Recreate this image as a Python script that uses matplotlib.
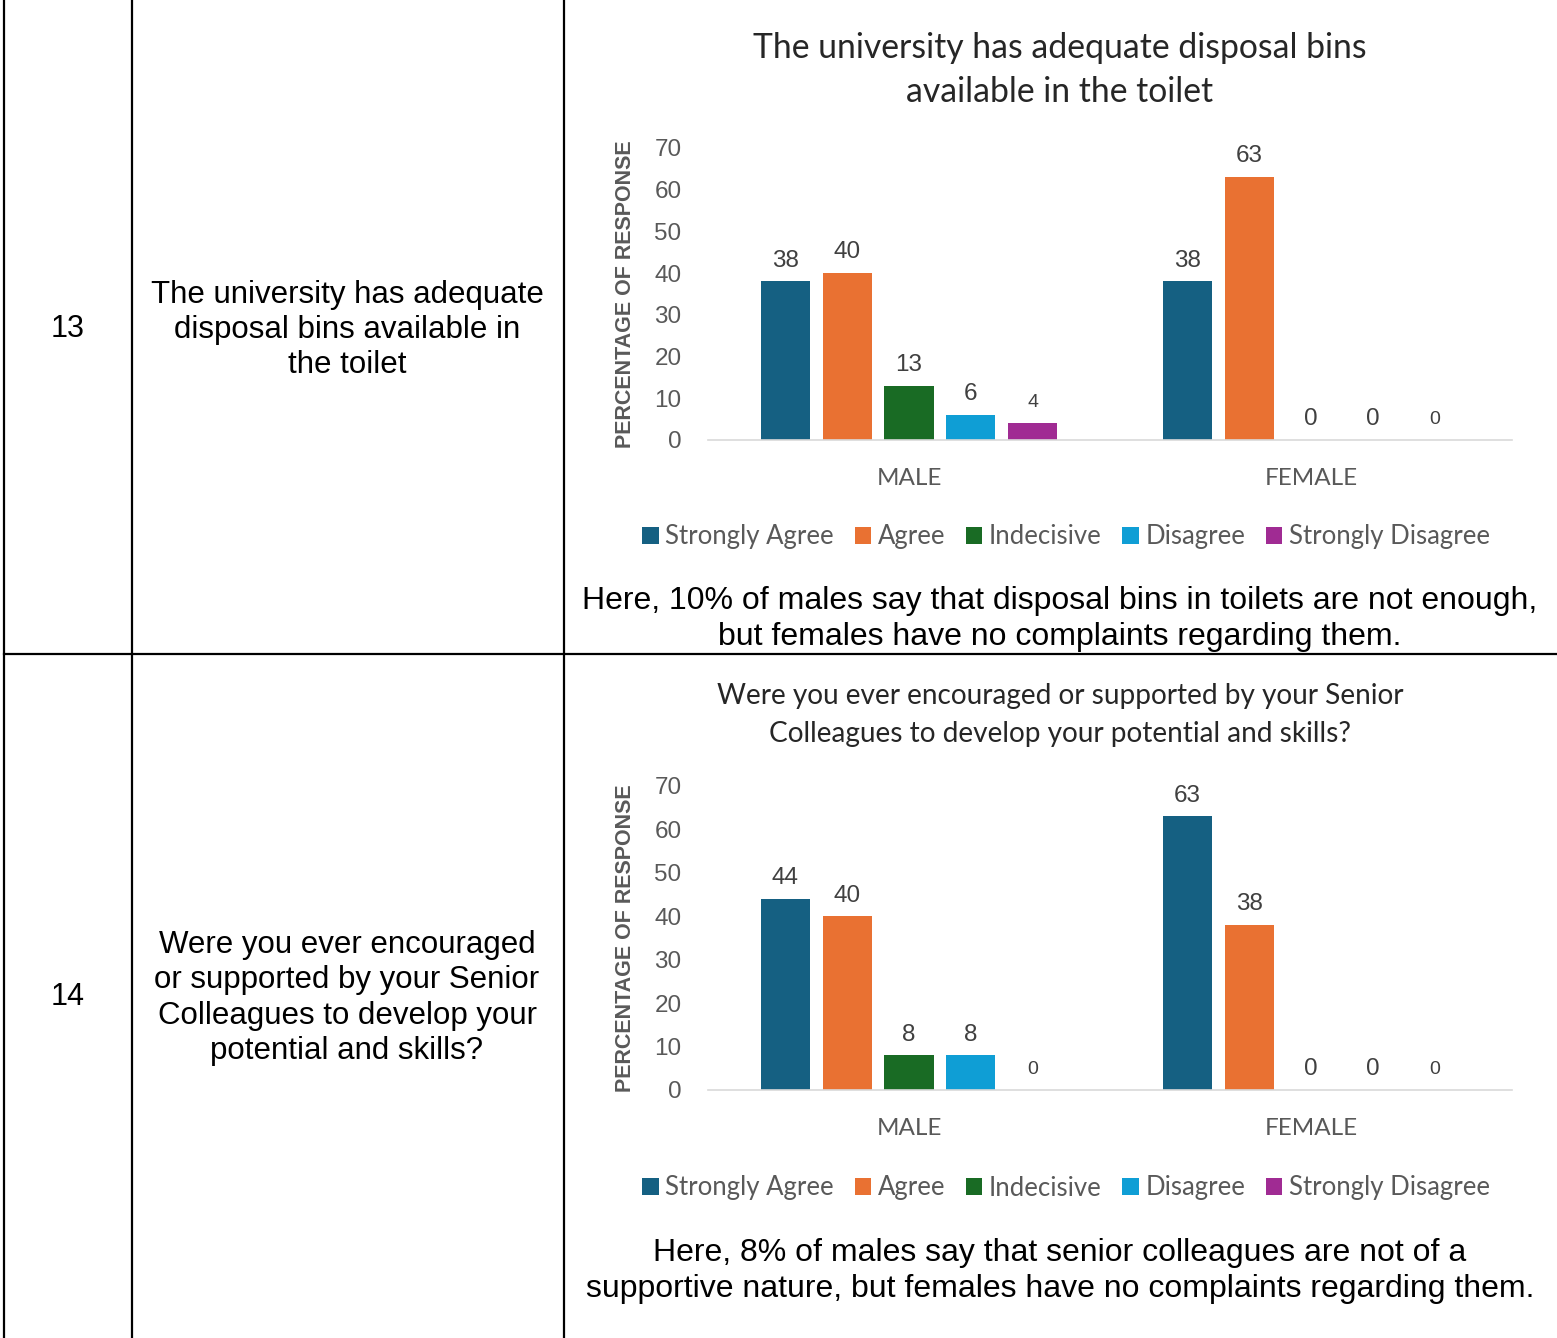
import matplotlib.pyplot as plt
from matplotlib.lines import Line2D

# data
categories = ['MALE', 'FEMALE']
series = ['Strongly Agree', 'Agree', 'Indecisive', 'Disagree', 'Strongly Disagree']
colors = ['#156082', '#E97132', '#196B24', '#0F9ED5', '#A02B93']

q13_male = [38, 40, 13, 6, 4]
q13_female = [38, 63, 0, 0, 0]
q14_male = [44, 40, 8, 8, 0]
q14_female = [63, 38, 0, 0, 0]

yticks = [0, 10, 20, 30, 40, 50, 60, 70]

W, H = 1557, 1338
fig = plt.figure(figsize=(W / 100, H / 100), dpi=100)
fig.patch.set_facecolor('white')

def fx(px):
    return px / W

def fy(py):
    return 1 - py / H

# table lines
for x in [4, 132, 564]:
    fig.add_artist(Line2D([fx(x), fx(x)], [0, 1], color='black', lw=1.6))
fig.add_artist(Line2D([fx(4), 1], [fy(654), fy(654)], color='black', lw=1.6))

# left columns
cell_font = 'Liberation Sans'
fig.text(fx(68), fy(329), '13', ha='center', va='center', fontsize=22, family=cell_font)
fig.text(fx(347), fy(330), 'The university has adequate\ndisposal bins available in\nthe toilet',
         ha='center', va='center', fontsize=22.5, family=cell_font, linespacing=1.22)
fig.text(fx(68), fy(997), '14', ha='center', va='center', fontsize=22, family=cell_font)
fig.text(fx(347), fy(998), 'Were you ever encouraged\nor supported by your Senior\nColleagues to develop your\npotential and skills?',
         ha='center', va='center', fontsize=22.5, family=cell_font, linespacing=1.22)

chart_font = 'Lato'
gray = '#595959'
w = 0.122
step = 0.154


def draw_chart(top_px, bottom_px, male, female, title, title_size, title_y, title_ls, leg_y,
               caption, cap_y):
    ax = fig.add_axes([fx(708), fy(bottom_px), fx(1512) - fx(708), (bottom_px - top_px) / H])
    for i, s in enumerate(series):
        vals = [male[i], female[i]]
        pos = [c + (i - 2) * step for c in range(len(categories))]
        bars = ax.bar(pos, vals, width=w, color=colors[i], label=s, zorder=2)
        ax.bar_label(bars, labels=[str(v) for v in vals], padding=7 if i < 4 else 9,
                     fontsize=14 if i == 4 else 17.5, color='#404040', family=cell_font)
    ax.set_xlim(-0.5, 1.5)
    ax.set_ylim(0, 70)
    ax.set_yticks(yticks)
    ax.tick_params(axis='y', length=0, pad=19, labelsize=17.5, labelcolor=gray)
    for lab in ax.get_yticklabels():
        lab.set_family(cell_font)
    ax.set_xticks([0, 1])
    ax.set_xticklabels(categories, family=chart_font, fontsize=17.5, color=gray)
    ax.tick_params(axis='x', length=0, pad=20)
    for sp in ['top', 'right', 'left']:
        ax.spines[sp].set_visible(False)
    ax.spines['bottom'].set_color('#d9d9d9')
    ax.spines['bottom'].set_linewidth(1.2)
    ax.set_ylabel('PERCENTAGE OF RESPONSE', fontsize=15.5, fontweight='bold', color=gray,
                  family=cell_font)
    ax.yaxis.set_label_coords(-0.09, 0.5)
    fig.text(fx(1060), fy(title_y), title, ha='center', va='center', fontsize=title_size,
             family=chart_font, color='#262626', linespacing=title_ls)
    handles, labels = ax.get_legend_handles_labels()
    fig.legend(handles, labels, loc='center', bbox_to_anchor=(fx(1066), fy(leg_y)), ncol=5,
               frameon=False, handlelength=0.65, handleheight=0.65, handletextpad=0.25,
               columnspacing=0.8, prop={'family': chart_font, 'size': 18.5}, labelcolor=gray)
    fig.text(fx(1060), fy(cap_y), caption, ha='center', va='center', fontsize=23,
             family=cell_font, linespacing=1.22)


draw_chart(148, 440, q13_male, q13_female,
           'The university has adequate disposal bins\navailable in the toilet', 24.3, 70, 1.5, 537,
           'Here, 10% of males say that disposal bins in toilets are not enough,\nbut females have no complaints regarding them.',
           619)
draw_chart(786, 1090, q14_male, q14_female,
           'Were you ever encouraged or supported by your Senior\nColleagues to develop your potential and skills?',
           20.2, 715, 1.6, 1188,
           'Here, 8% of males say that senior colleagues are not of a\nsupportive nature, but females have no complaints regarding them.',
           1271)

fig.savefig('out.png', dpi=100)
